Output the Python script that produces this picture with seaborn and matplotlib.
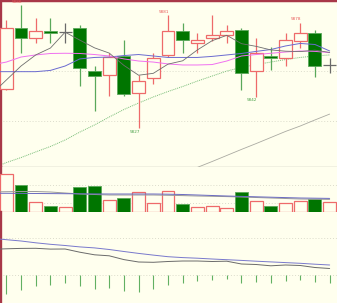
import numpy as np
import matplotlib
matplotlib.use("Agg")
import matplotlib.pyplot as plt
import seaborn as sns

# ---------------- data ----------------
opens  = [5845.8, 5874.9, 5870.1, 5873.7, 5873.2, 5874.9, 5854.6, 5852.5, 5861.6, 5843.8,
          5850.9, 5862.1, 5873.7, 5868.0, 5870.4, 5871.6, 5874.0, 5854.6, 5861.7, 5860.5,
          5868.9, 5872.5, 5857.3]
highs  = [5878.8, 5886.0, 5879.6, 5879.6, 5877.2, 5876.4, 5856.8, 5863.0, 5869.3, 5852.5,
          5863.2, 5881.2, 5877.5, 5872.5, 5881.2, 5876.4, 5875.1, 5870.1, 5866.0, 5872.7,
          5877.5, 5874.0, 5860.5]
lows   = [5845.5, 5863.2, 5868.0, 5868.0, 5868.0, 5847.2, 5835.4, 5842.6, 5842.5, 5827.0,
          5848.2, 5861.1, 5863.2, 5862.9, 5868.9, 5868.0, 5845.3, 5842.1, 5854.9, 5856.8,
          5865.4, 5851.4, 5853.6]
closes = [5874.9, 5870.4, 5873.7, 5872.7, 5873.2, 5855.7, 5852.0, 5861.1, 5843.4, 5849.6,
          5860.5, 5873.7, 5869.3, 5869.3, 5871.6, 5873.7, 5853.6, 5862.9, 5860.5, 5869.1,
          5872.5, 5857.0, 5857.3]
volumes = [38000, 27300, 10000, 6300, 5000, 25300, 26000, 12300, 14000, 20300, 9000, 21300,
           8000, 5000, 6300, 4000, 20300, 11300, 6300, 9300, 11600, 13000, 10000]

# moving averages (first value = bar before the visible window)
ma5  = [5843.4, 5850.1, 5856.8, 5862.1, 5865.4, 5873.0, 5869.2, 5865.5, 5863.0, 5857.1,
        5852.4, 5853.3, 5857.7, 5859.3, 5864.5, 5868.9, 5871.5, 5867.5, 5866.2, 5864.5,
        5863.9, 5863.7, 5864.4, 5863.3]
ma10 = [5857.3, 5858.7, 5861.1, 5862.1, 5862.8, 5862.9, 5862.8, 5862.3, 5861.6, 5860.2,
        5859.2, 5858.7, 5857.8, 5857.3, 5857.3, 5857.5, 5859.2, 5861.6, 5862.3, 5862.9,
        5863.5, 5864.0, 5863.8, 5863.2]
ma20 = [5854.1, 5854.1, 5854.1, 5854.1, 5854.7, 5856.8, 5860.2, 5860.9, 5861.1, 5861.8,
        5862.3, 5861.6, 5860.9, 5860.9, 5860.9, 5861.4, 5862.1, 5862.8, 5863.8, 5864.7,
        5866.4, 5867.6, 5867.1, 5864.0]
ma60 = [5807.8, 5810.6, 5813.0, 5815.7, 5818.3, 5821.4, 5825.2, 5828.6, 5832.4, 5836.0,
        5839.1, 5842.0, 5844.6, 5847.0, 5849.6, 5852.0, 5854.4, 5856.1, 5857.5, 5858.7,
        5859.9, 5860.9, 5861.6, 5862.1]
ma120 = [5805.4, 5808.3, 5811.1, 5814.0, 5816.9, 5819.7, 5822.6, 5825.5, 5828.1, 5831.0, 5833.8]

vol_ma_a = [19000, 19000, 18900, 18800, 18700, 18600, 18500, 18400, 18300, 18300, 18300, 18300,
            18100, 17800, 17300, 16800, 16300, 15900, 15500, 15100, 14700, 14300, 14100, 13900]
vol_ma_b = [20300, 20600, 20800, 20800, 20300, 19300, 18300, 17800, 17300, 17300, 17300, 17300,
            17000, 16700, 16300, 16000, 15700, 15300, 14800, 14300, 13800, 13300, 13100, 12900]

dif = [2.60, 2.65, 2.69, 2.70, 2.62, 2.63, 2.31, 2.05, 1.95, 1.57, 1.33, 1.30, 1.38, 1.43,
       1.43, 1.38, 1.41, 1.13, 1.08, 0.95, 1.03, 0.98, 0.78, 0.68]
dea = [3.70, 3.56, 3.43, 3.25, 3.10, 2.98, 2.84, 2.74, 2.58, 2.38, 2.19, 2.02, 1.86, 1.77,
       1.71, 1.63, 1.56, 1.49, 1.41, 1.34, 1.27, 1.20, 1.11, 1.03]
macd_hist = [-1.84, -1.47, -1.07, -0.97, -0.73, -1.07, -1.37, -1.27, -1.57, -1.63, -1.37, -0.97,
             -0.73, -0.57, -0.50, -0.37, -0.73, -0.67, -0.80, -0.57, -0.47, -0.67, -0.73]

high_marks = [1, 11, 20]
low_marks = [9, 17]

# ---------------- style ----------------
BG = "#ffffee"
RED = "#ee6a6a"
GREEN_FILL = "#007500"
GREEN_EDGE = "#5aa85a"
DOJI = "#6a6a6a"
BORDER = "#a83848"
SEP = "#b9b9b0"
GRID = "#dcdccc"

sns.set_style("white")
plt.rcParams["font.family"] = ["DejaVu Sans"]

W, H = 337, 303
fig = plt.figure(figsize=(W / 100, H / 100), dpi=100)
fig.patch.set_facecolor(BG)

main_bot = 167.3
vol_bot = 212.3
ax = fig.add_axes([0, 1 - main_bot / H, 1, main_bot / H])
axv = fig.add_axes([0, 1 - vol_bot / H, 1, (vol_bot - main_bot) / H])
axi = fig.add_axes([0, 0, 1, 1 - vol_bot / H])

n = len(opens)
x = np.arange(n)
x_ma = np.arange(-1, n)
XL = (-0.43, 22.5)
bw = 0.88

for a in (ax, axv, axi):
    a.set_facecolor(BG)
    a.set_xlim(*XL)
    a.set_xticks([])
    a.set_yticks([])
    for s in a.spines.values():
        s.set_visible(False)
    a.spines["left"].set_visible(True)
    a.spines["left"].set_color(BORDER)
    a.spines["left"].set_linewidth(2.4)

ax.spines["top"].set_visible(True)
ax.spines["top"].set_color(BORDER)
ax.spines["top"].set_linewidth(3.2)
ax.spines["bottom"].set_visible(True)
ax.spines["bottom"].set_color(SEP)
ax.spines["bottom"].set_linewidth(1.0)
axv.spines["bottom"].set_visible(True)
axv.spines["bottom"].set_color(SEP)
axv.spines["bottom"].set_linewidth(1.0)

# ---------------- main panel ----------------
ax.set_ylim(5808.34, 5888.39)
for g in (5854.56, 5830.35):
    ax.axhline(g, color=GRID, lw=0.7, ls=(0, (1, 2)), zorder=0)

sns.lineplot(x=x_ma, y=ma60, ax=ax, color="#78bc78", linewidth=0.7, linestyle=(0, (1, 1)), zorder=2)
sns.lineplot(x=np.arange(n - len(ma120), n), y=ma120, ax=ax, color="#aaaaa2", linewidth=0.6, zorder=2)

for i in range(n):
    o, h, l, c = opens[i], highs[i], lows[i], closes[i]
    if c > o:
        ax.vlines(i, c, h, color=RED, lw=0.9, zorder=3)
        ax.vlines(i, l, o, color=RED, lw=0.9, zorder=3)
        ax.bar(i, c - o, bottom=o, width=bw, facecolor=BG, edgecolor=RED, linewidth=0.9, zorder=3)
    elif c < o:
        ax.vlines(i, l, h, color=GREEN_EDGE, lw=0.9, zorder=3)
        ax.bar(i, o - c, bottom=c, width=bw, facecolor=GREEN_FILL, edgecolor=GREEN_EDGE,
               linewidth=0.6, zorder=3)
    else:
        ax.vlines(i, l, h, color=DOJI, lw=0.9, zorder=3)
        ax.hlines(c, i - bw / 2, i + bw / 2, color=DOJI, lw=0.9, zorder=3)

sns.lineplot(x=x_ma, y=ma20, ax=ax, color="#6a6ad0", linewidth=0.7, zorder=4)
sns.lineplot(x=x_ma, y=ma10, ax=ax, color="#f070f0", linewidth=0.7, zorder=4)
sns.lineplot(x=x_ma, y=ma5, ax=ax, color="#6e6e6e", linewidth=0.6, zorder=5)

for i in high_marks:
    ax.annotate(f"{highs[i]:.0f}", (i, highs[i]), xytext=(-2.8, 1.0), textcoords="offset points",
                ha="center", va="bottom", fontsize=3.0, color="#e85858")
for i in low_marks:
    ax.annotate(f"{lows[i]:.0f}", (i, lows[i]), xytext=(-2.8, -1.2), textcoords="offset points",
                ha="center", va="top", fontsize=3.0, color="#48a048")
ax.set_xlim(*XL)
ax.set_xlabel("")
ax.set_ylabel("")

# ---------------- volume panel ----------------
axv.set_ylim(0, 45000)
for g in (27300, 9000):
    axv.axhline(g, color=GRID, lw=0.7, ls=(0, (1, 2)), zorder=0)
for i in range(n):
    if closes[i] < opens[i]:
        axv.bar(i, volumes[i], width=bw, facecolor=GREEN_FILL, edgecolor=GREEN_EDGE,
                linewidth=0.6, zorder=3)
    else:
        axv.bar(i, volumes[i], width=bw, facecolor=BG, edgecolor=RED, linewidth=0.9, zorder=3)
sns.lineplot(x=x_ma, y=vol_ma_b, ax=axv, color="#9a9a9a", linewidth=0.7, zorder=4)
sns.lineplot(x=x_ma, y=vol_ma_a, ax=axv, color="#6a6ac0", linewidth=0.7, zorder=4)
axv.set_xlim(*XL)
axv.set_xlabel("")
axv.set_ylabel("")

# ---------------- MACD panel ----------------
axi.set_ylim(-2.77, 6.3)
axi.axhline(0, color=GRID, lw=0.7, ls=(0, (1, 2)), zorder=0)
axi.axhline(3.7, color=GRID, lw=0.7, ls=(0, (1, 2)), zorder=0)
axi.vlines(x, 0, macd_hist, color="#62b062", lw=0.8, zorder=3)
sns.lineplot(x=x_ma, y=dea, ax=axi, color="#7878cc", linewidth=0.7, zorder=4)
sns.lineplot(x=x_ma, y=dif, ax=axi, color="#6a6a6a", linewidth=0.7, zorder=4)
axi.set_xlim(*XL)
axi.set_xlabel("")
axi.set_ylabel("")

fig.savefig("out.png", dpi=100, facecolor=BG)
